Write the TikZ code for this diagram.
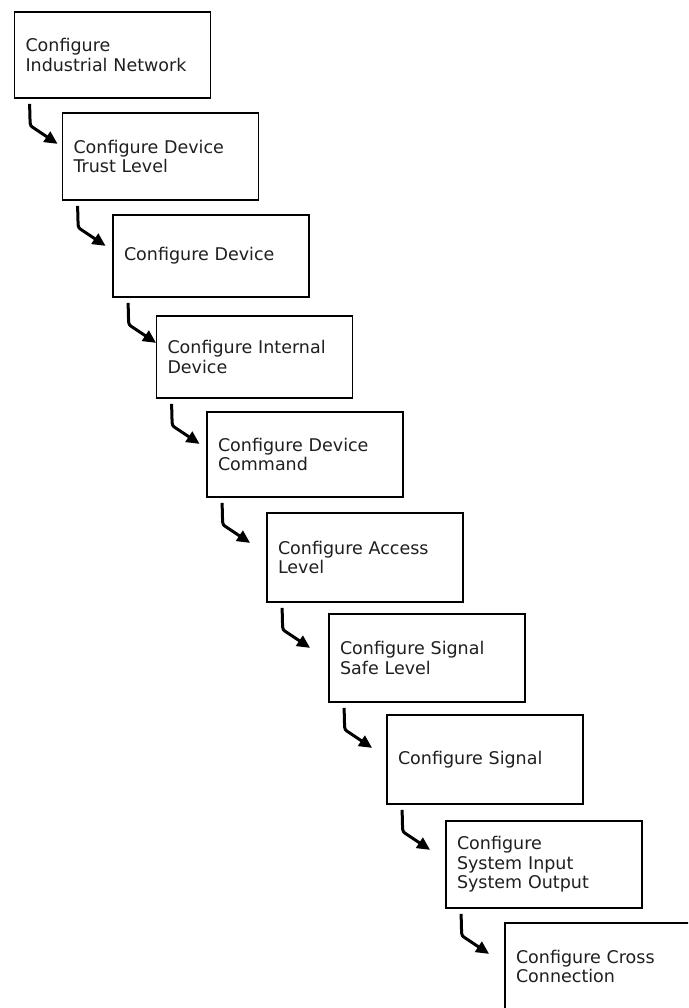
\documentclass[tikz,border=0pt]{standalone}
\usepackage{fontspec}
\setmainfont{DejaVu Sans}
\usetikzlibrary{calc,arrows.meta}
\begin{document}
\begin{tikzpicture}[x=1pt,y=-1pt,
  stepbox/.style={draw=black,line width=1.8pt,fill=white,rectangle,
    text width=174pt,align=left,inner xsep=11pt,inner ysep=0pt,
    minimum height=87pt,font=\fontsize{17.5}{19.5}\selectfont,text=black!88},
  arr/.style={line width=3pt,-{Triangle[length=13pt,width=12pt]},line join=round}]
\useasboundingbox (0,0) rectangle (688,1008);
\clip (0,0) rectangle (688,1008);
\fill[white] (0,0) rectangle (688,1008);
\node[stepbox,minimum height=86pt] (b1) at (112.5,55) {Configure\\Industrial Network};
\node[stepbox] (b2) at (160.5,156.5) {Configure Device\\Trust Level};
\node[stepbox,minimum height=82pt] (b3) at (211,256) {Configure Device};
\node[stepbox,minimum height=82pt] (b4) at (254.5,357) {Configure Internal\\Device};
\node[stepbox,minimum height=85pt] (b5) at (305,454.5) {Configure Device\\Command};
\node[stepbox,minimum height=89pt] (b6) at (365,557.5) {Configure Access\\Level};
\node[stepbox,minimum height=88pt] (b7) at (427,658) {Configure Signal\\Safe Level};
\node[stepbox,minimum height=89pt] (b8) at (485,759.5) {Configure Signal};
\node[stepbox] (b9) at (544,864.5) {Configure\\System Input\\System Output};
\node[stepbox] (b10) at (603,966.5) {Configure Cross\\Connection};
\foreach \a in {1,...,9}{
  \draw[arr] ($(b\a.south west)+(16,5)$) -- ($(b\a.south west)+(16.5,24)$)
    .. controls ($(b\a.south west)+(17,27)$) .. ($(b\a.south west)+(20,29)$)
    -- ($(b\a.south west)+(44,45)$);
}
\end{tikzpicture}
\end{document}
